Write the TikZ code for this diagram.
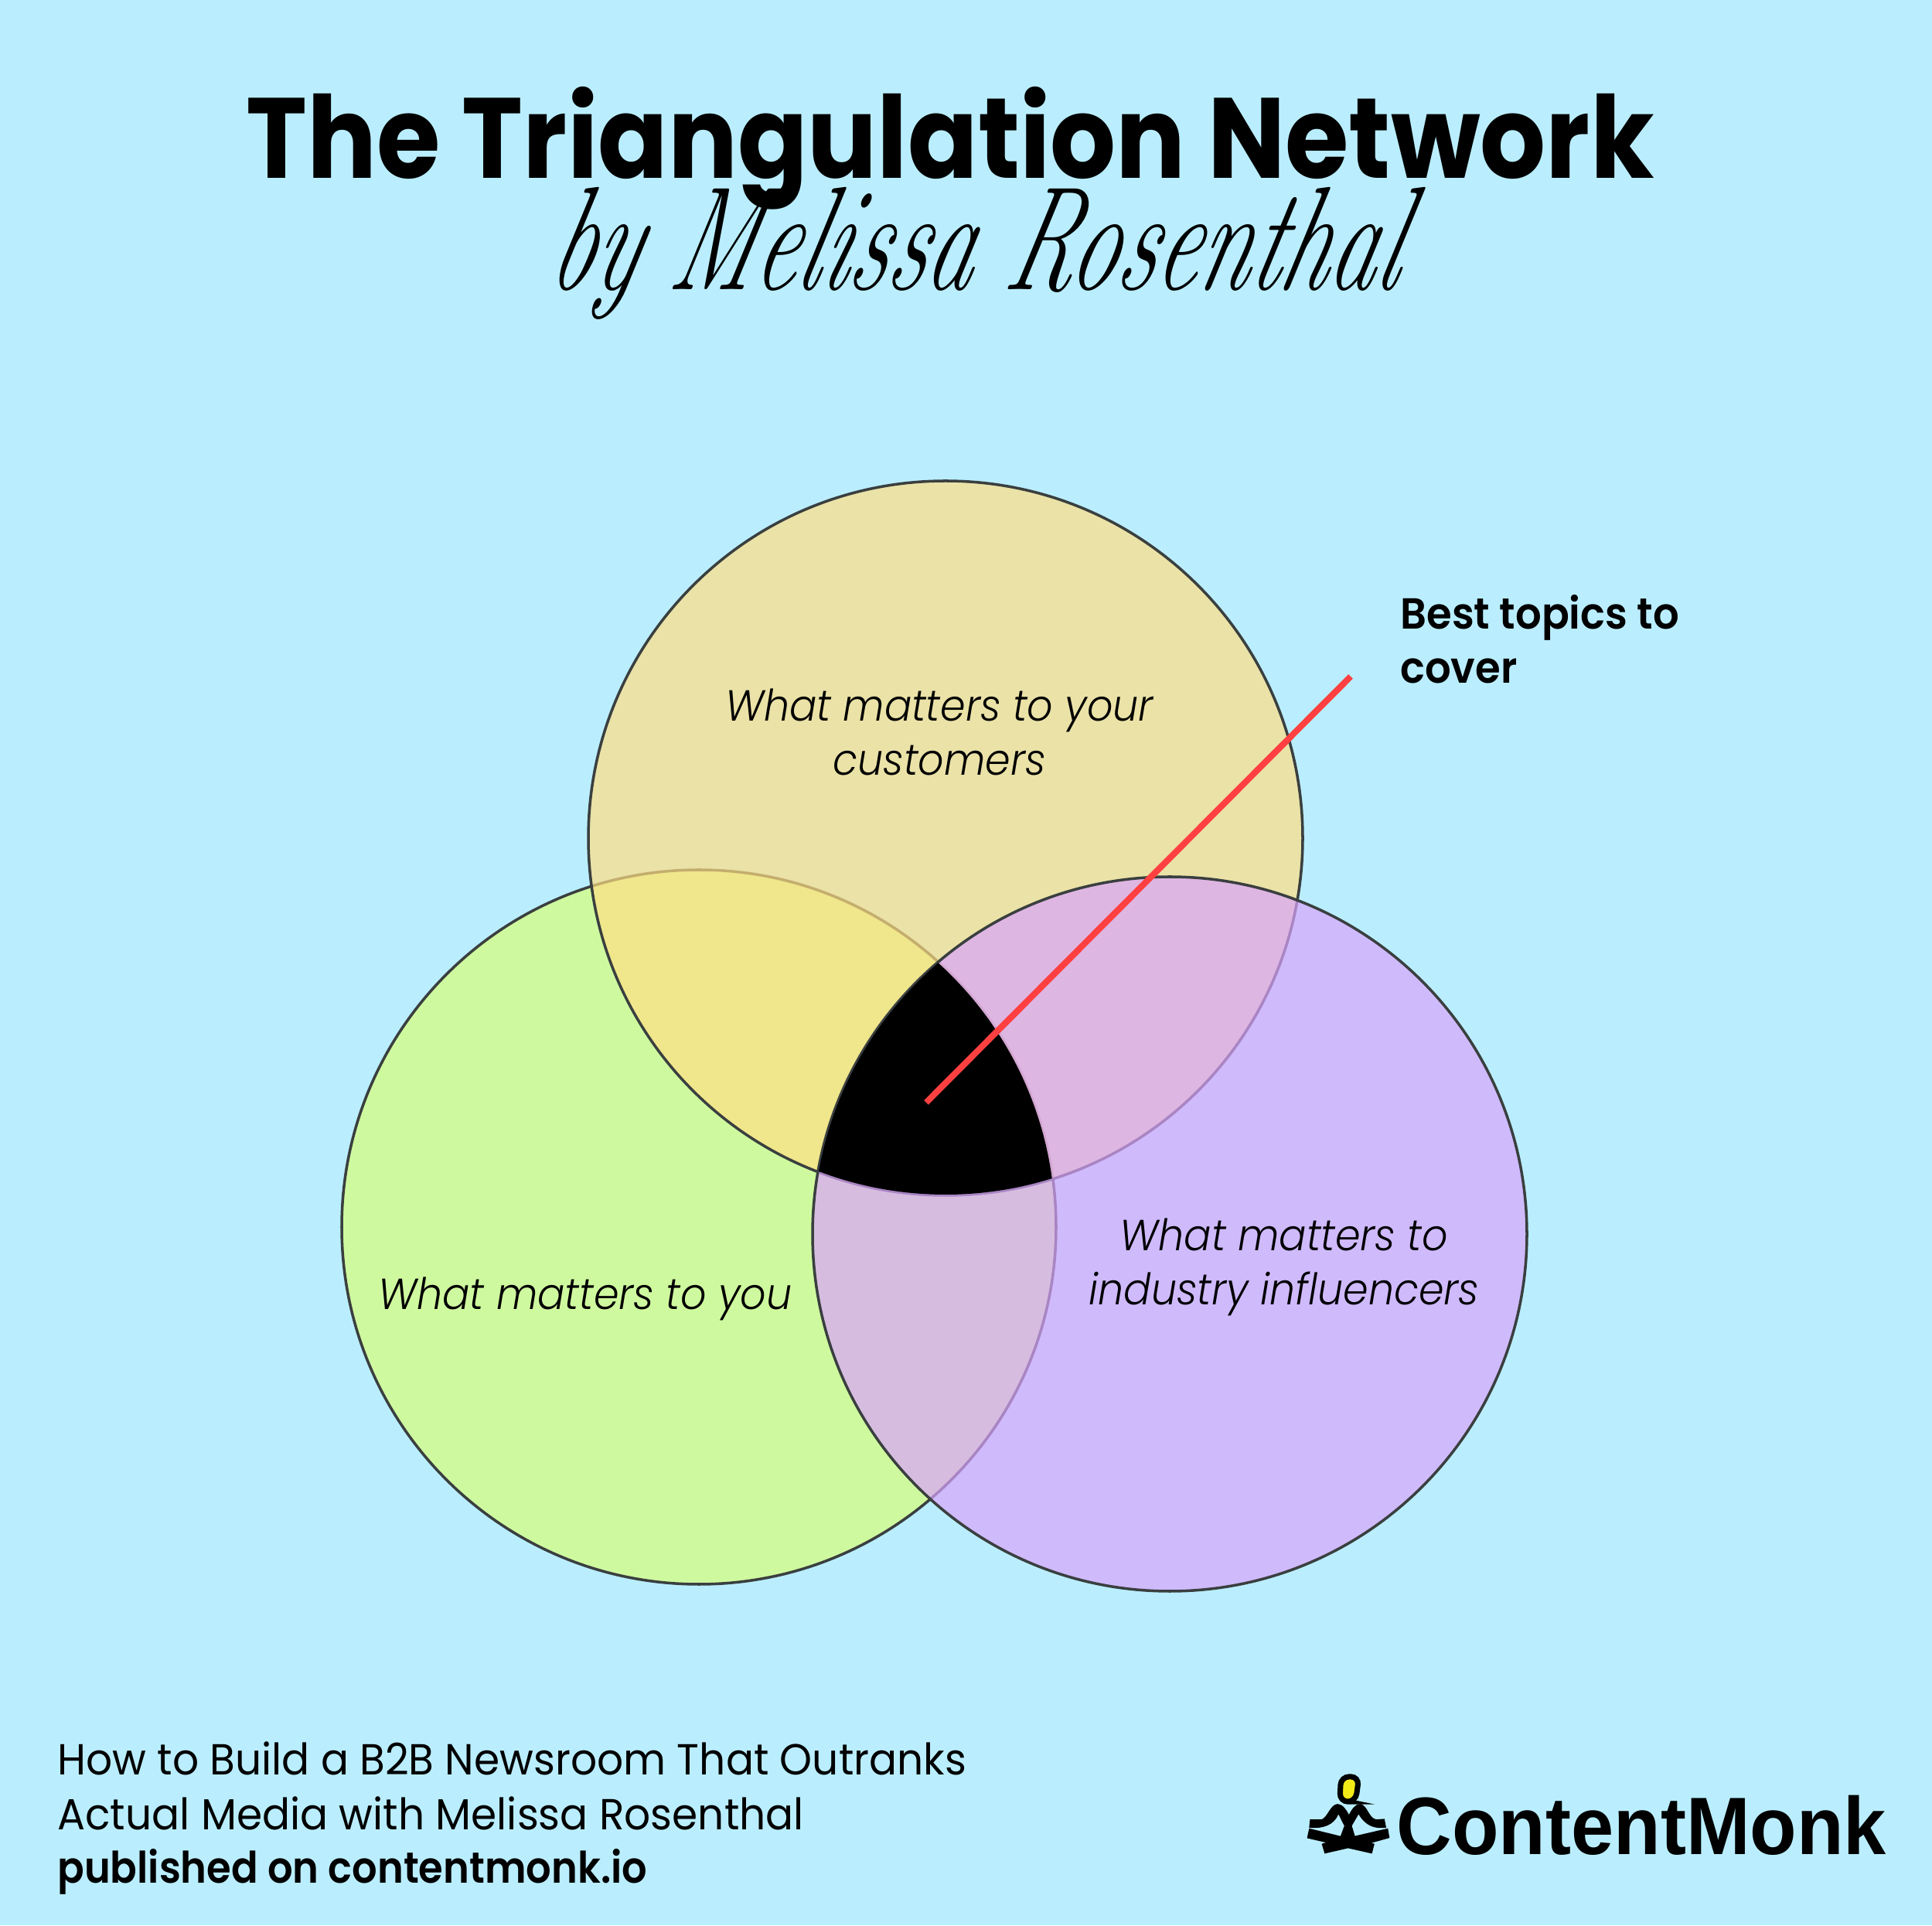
\documentclass[tikz,border=0pt]{standalone}
\usepackage{fontspec}
\setmainfont{Poppins}[FakeStretch=0.95]
\newfontfamily\titlefont{Poppins Bold}[FakeStretch=0.905]
\newfontfamily\bestfont{Poppins SemiBold}[FakeStretch=0.94]
\newfontfamily\pubfont{Poppins SemiBold}[FakeStretch=0.91]
\newfontfamily\vennfont{Poppins Light Italic}[FakeStretch=0.93]
\newfontfamily\bylinefont{Latin Modern Roman}
\newfontfamily\logofont{Liberation Sans}[FakeStretch=0.94]
\usetikzlibrary{positioning}
\definecolor{skybg}{HTML}{BAEEFF}
\definecolor{youfill}{HTML}{D9FF77}
\definecolor{custfill}{HTML}{FFDE83}
\definecolor{inflfill}{HTML}{D9A4FC}
\definecolor{ringcol}{HTML}{3A3F3F}
\definecolor{pointer}{HTML}{FF4040}
\definecolor{headcol}{HTML}{F2EA16}

\begin{document}
\begin{tikzpicture}[
  venn/.style={circle, draw=ringcol, line width=1pt, fill opacity=0.7,
               minimum size=9.24cm, inner sep=0pt},
  venntext/.style={align=center, font=\vennfont\fontsize{16}{19.9}\selectfont},
  footer/.style={anchor=west, font=\fontsize{16}{19.9}\selectfont}]

  \fill[skybg] (0,0) rectangle (24.99,24.90);
  \useasboundingbox (0,0) rectangle (24.99,24.90);

  \node[anchor=base, font=\titlefont\fontsize{42}{48}\selectfont] (title) at (12.29,22.59)
    {The Triangulation Network};
  \node[anchor=base, xslant=0.25, yscale=1.55, transform shape,
        font=\bylinefont\itshape\fontsize{35}{40}\selectfont] (byline) at (12.55,21.15)
    {by Melissa Rosenthal};

  % circles, bottom one first
  \node[venn, fill=youfill]  (you)  at (9.04,9.03)   {};
  \node[venn, fill=custfill] (cust) at (12.23,14.06) {};
  \node[venn, fill=inflfill] (infl) at (15.13,8.94)  {};

  % middle part
  \begin{scope}
    \clip (you.center) circle (4.61);
    \clip (cust.center) circle (4.61);
    \fill[black] (infl.center) circle (4.61);
  \end{scope}

  \node[venntext] (custtext) at (12.15,15.43) {What matters to your\\customers};
  \node[venntext] (youtext)  at (7.57,8.10)   {What matters to you};
  \node[venntext] (infltext) at (16.61,8.51)  {What matters to\\industry influencers};

  \node[anchor=west, align=left, font=\bestfont\fontsize{16}{19.9}\selectfont] (best)
    at (17.99,16.63) {Best topics to\\cover};

  \coordinate (tipin)  at (11.98,10.64);
  \coordinate (tipout) at (17.47,16.15);
  \draw[pointer, line width=2.3pt] (tipin) -- (tipout);

  \node[footer] (foot1) at (0.62,2.16) {How to Build a B2B Newsroom That Outranks};
  \node[footer, below=0.37cm of foot1.south west, anchor=west] (foot2)
    {Actual Media with Melissa Rosenthal};
  \node[footer, below=0.42cm of foot2.south west, anchor=west, font=\pubfont\fontsize{16}{19.9}\selectfont] (foot3)
    {published on contentmonk.io};

  % logo, traced
  \node[anchor=base west, inner sep=0pt, font=\logofont\bfseries\fontsize{30}{30}\selectfont] (brand)
    at (18.06,0.92) {ContentMonk};
  \begin{scope}[shift={(16.5,2.40)}, x=0.005414cm, y=-0.003333cm]
    \filldraw[fill=headcol, draw=black, line width=2pt, rounded corners=3pt]
      (156,144) -- (199,144) -- (191,241) -- (153,241) -- cycle;
    \fill[black] (82,310) -- (110,310) .. controls (125,300) and (130,252) .. (148,250)
      .. controls (160,250) and (170,275) .. (175,292) .. controls (182,270) and (190,250) .. (202,250)
      .. controls (220,255) and (222,305) .. (240,310) -- (260,308) -- (264,342)
      .. controls (235,348) and (215,335) .. (198,290) -- (182,335) -- (190,378) -- (155,375)
      -- (164,335) -- (150,290) .. controls (140,330) and (115,348) .. (80,342) -- cycle;
    \fill[black] (80,345) -- (155,375) -- (188,375) -- (268,345) -- (272,382) -- (228,402)
      -- (236,405) -- (230,443) -- (173,422) -- (117,443) -- (110,405) -- (120,400)
      -- (75,383) -- cycle;
  \end{scope}
\end{tikzpicture}
\end{document}
